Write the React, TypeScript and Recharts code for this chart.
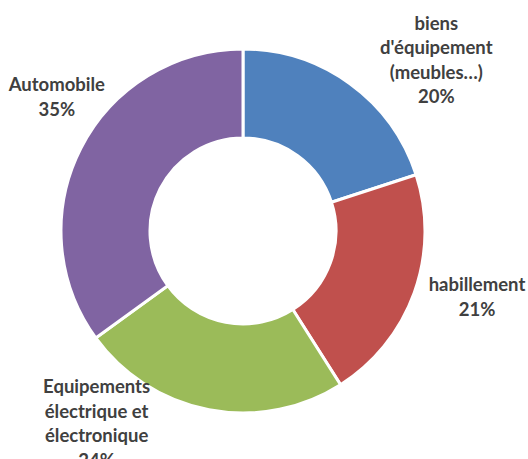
import { PieChart, Pie, Cell } from 'recharts'

const categories = [
  "biens\nd'équipement\n(meubles…)",
  'habillement',
  'Equipements\nélectrique et\nélectronique',
  'Automobile',
]
const shares = [20, 21, 24, 35]
const colors = ['#4F81BD', '#C0504D', '#9BBB59', '#8064A2']

// Excel "best fit" nudges for each label, relative to a point just outside the ring
const labelNudge = [
  [54, 20],
  [11, -15],
  [-102, -41],
  [25, -27],
]

const data = categories.map((name, i) => ({ name, value: shares[i] }))

const RAD = Math.PI / 180
const LINE = 24.5

function renderLabel(props: any) {
  const { cx, cy, midAngle, outerRadius, percent, index, name } = props
  const r = outerRadius + 55
  const x = cx + r * Math.cos(-midAngle * RAD) + labelNudge[index][0]
  const y = cy + r * Math.sin(-midAngle * RAD) + labelNudge[index][1]
  const lines = [...String(name).split('\n'), `${Math.round(percent * 100)}%`]
  const top = y - ((lines.length - 1) * LINE) / 2
  return (
    <text
      x={x}
      y={top}
      textAnchor="middle"
      dominantBaseline="central"
      fill="#404040"
      style={{ fontFamily: 'Lato, sans-serif', fontWeight: 700, fontSize: 18.5 }}
    >
      {lines.map((l, i) => (
        <tspan key={i} x={x} y={top + i * LINE}>
          {l}
        </tspan>
      ))}
    </text>
  )
}

export default function App() {
  return (
    <div style={{ position: 'absolute', left: 0, top: 0, background: '#fff' }}>
      <PieChart width={528} height={459} margin={{ top: 0, right: 0, bottom: 0, left: 0 }}>
        <Pie
          data={data}
          dataKey="value"
          nameKey="name"
          cx={243}
          cy={231}
          innerRadius={93}
          outerRadius={182}
          startAngle={90}
          endAngle={-270}
          stroke="#fff"
          strokeWidth={3}
          label={renderLabel}
          labelLine={false}
          isAnimationActive={false}
        >
          {data.map((d, i) => (
            <Cell key={i} fill={colors[i]} />
          ))}
        </Pie>
      </PieChart>
    </div>
  )
}
